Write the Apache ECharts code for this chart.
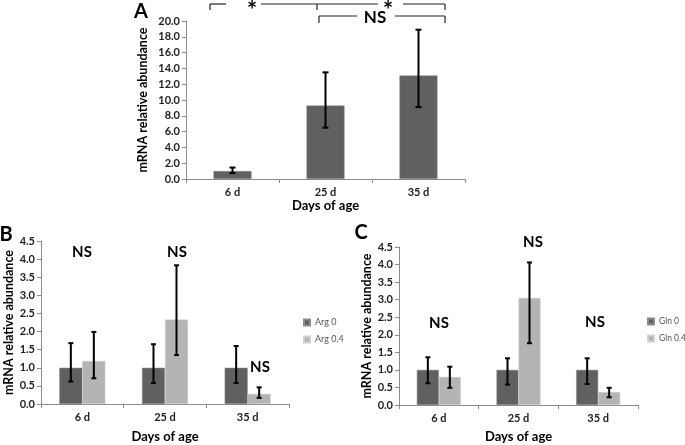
<!DOCTYPE html>
<html><head><meta charset="utf-8">
<script src="https://cdn.jsdelivr.net/npm/echarts@6/dist/echarts.min.js"></script>
<style>html,body{margin:0;padding:0;background:#fff}#c{width:685px;height:445px}</style>
</head><body><div id="c"></div>
<script>
const categories = ['6 d', '25 d', '35 d'];
// Panel A
const aValues = [1.0, 9.3, 13.1];
const aErrLow = [0.75, 6.5, 9.1];
const aErrHigh = [1.45, 13.5, 18.9];
// Panel B
const arg0 = [1.0, 1.0, 1.0];
const arg0Low = [0.62, 0.58, 0.58];
const arg0High = [1.68, 1.65, 1.6];
const arg04 = [1.19, 2.33, 0.28];
const arg04Low = [0.71, 1.35, 0.17];
const arg04High = [1.99, 3.83, 0.46];
// Panel C
const gln0 = [1.0, 1.0, 1.0];
const gln0Low = [0.62, 0.58, 0.6];
const gln0High = [1.36, 1.33, 1.33];
const gln04 = [0.8, 3.05, 0.37];
const gln04Low = [0.49, 1.76, 0.22];
const gln04High = [1.09, 4.06, 0.49];

const FONT = 'Lato, "Open Sans", sans-serif';
const DARK = '#606060', LIGHT = '#b4b4b4';

function yAx(gi, max, interval, gap) {
  return {
    gridIndex: gi, type: 'value', min: 0, max: max, interval: interval,
    name: 'mRNA relative abundance', nameLocation: 'middle', nameGap: gap,
    nameTextStyle: {fontFamily: FONT, fontWeight: 'bold', fontSize: 12.5, color: '#000'},
    axisLine: {show: true, lineStyle: {color: '#8c8c8c'}},
    axisTick: {show: true, length: 4, lineStyle: {color: '#8c8c8c'}},
    axisLabel: {fontFamily: FONT, fontWeight: 'bold', fontSize: 11, color: '#222', margin: 6,
      formatter: v => v.toFixed(1)},
    splitLine: {show: false}
  };
}
function xAx(gi, gap) {
  return {
    gridIndex: gi, type: 'category', data: categories,
    name: 'Days of age', nameLocation: 'middle', nameGap: gap,
    nameTextStyle: {fontFamily: FONT, fontWeight: 'bold', fontSize: 13, color: '#000'},
    axisLine: {lineStyle: {color: '#8c8c8c'}},
    axisTick: {show: true, length: 4, lineStyle: {color: '#8c8c8c'}},
    axisLabel: {fontFamily: FONT, fontWeight: 'bold', fontSize: 11, color: '#222', margin: 8}
  };
}
function errSeries(gi, low, high, offset, cap) {
  return {
    type: 'custom', xAxisIndex: gi, yAxisIndex: gi, z: 10,
    data: categories.map((c, i) => [i, low[i], high[i]]),
    renderItem: function (params, api) {
      const lo = api.coord([api.value(0), api.value(1)]);
      const hi = api.coord([api.value(0), api.value(2)]);
      const x = lo[0] + offset;
      const s = {stroke: '#000', lineWidth: 2};
      return {type: 'group', children: [
        {type: 'line', shape: {x1: x, y1: lo[1], x2: x, y2: hi[1]}, style: s},
        {type: 'line', shape: {x1: x - cap, y1: lo[1], x2: x + cap, y2: lo[1]}, style: s},
        {type: 'line', shape: {x1: x - cap, y1: hi[1], x2: x + cap, y2: hi[1]}, style: s}
      ]};
    }
  };
}
function txt(x, y, t, size) {
  return {type: 'text', x: x, y: y, style: {text: t, fontFamily: FONT, fontWeight: 'bold',
    fontSize: size || 14, fill: '#000', textAlign: 'center', textVerticalAlign: 'middle'}};
}
function ln(x1, y1, x2, y2) {
  return {type: 'line', shape: {x1, y1, x2, y2}, style: {stroke: '#222', lineWidth: 1.2}};
}

const chart = echarts.init(document.getElementById('c'), null, {renderer: 'canvas'});
chart.setOption({
  animation: false,
  grid: [
    {left: 186, width: 279, top: 21, height: 158},
    {left: 41, width: 248, top: 241, height: 163},
    {left: 399, width: 239, top: 247, height: 158}
  ],
  xAxis: [xAx(0, 20), xAx(1, 26), xAx(2, 25)],
  yAxis: [yAx(0, 20, 2, 37), yAx(1, 4.5, 0.5, 25), yAx(2, 4.5, 0.5, 24)],
  legend: [
    {data: ['Arg 0', 'Arg 0.4'], orient: 'vertical', left: 303, top: 318, padding: 0, itemWidth: 6, itemHeight: 6,
      itemGap: 8, icon: 'rect', textStyle: {fontFamily: FONT, fontSize: 9, color: '#555'}},
    {data: ['Gln 0', 'Gln 0.4'], orient: 'vertical', left: 647, top: 317, padding: 0, itemWidth: 6, itemHeight: 6,
      itemGap: 8, icon: 'rect', textStyle: {fontFamily: FONT, fontSize: 8.5, color: '#555'}}
  ],
  series: [
    {type: 'bar', xAxisIndex: 0, yAxisIndex: 0, data: aValues, barWidth: 38,
      itemStyle: {color: DARK, borderColor: '#8a8a8a', borderWidth: 0.5}},
    errSeries(0, aErrLow, aErrHigh, 0, 3),
    {name: 'Arg 0', type: 'bar', xAxisIndex: 1, yAxisIndex: 1, data: arg0, barWidth: 23, barGap: '0%',
      itemStyle: {color: DARK, borderColor: '#8a8a8a', borderWidth: 0.5}},
    {name: 'Arg 0.4', type: 'bar', xAxisIndex: 1, yAxisIndex: 1, data: arg04, barWidth: 23, barGap: '0%',
      itemStyle: {color: LIGHT, borderColor: '#d0d0d0', borderWidth: 0.5}},
    errSeries(1, arg0Low, arg0High, -11.5, 2.5),
    errSeries(1, arg04Low, arg04High, 11.5, 2.5),
    {name: 'Gln 0', type: 'bar', xAxisIndex: 2, yAxisIndex: 2, data: gln0, barWidth: 22, barGap: '0%',
      itemStyle: {color: DARK, borderColor: '#8a8a8a', borderWidth: 0.5}},
    {name: 'Gln 0.4', type: 'bar', xAxisIndex: 2, yAxisIndex: 2, data: gln04, barWidth: 22, barGap: '0%',
      itemStyle: {color: LIGHT, borderColor: '#d0d0d0', borderWidth: 0.5}},
    errSeries(2, gln0Low, gln0High, -11, 2.5),
    errSeries(2, gln04Low, gln04High, 11, 2.5)
  ],
  graphic: [
    txt(141, 12, 'A', 20), txt(6, 235, 'B', 20), txt(361, 233, 'C', 20),
    // bracket A (top)
    ln(210, 4, 226, 4), ln(210, 4, 210, 10), ln(261, 4, 378, 4), ln(317, 4, 317, 10),
    ln(403, 4, 445, 4), ln(445, 4, 445, 10),
    txt(252, 11, '*', 24), txt(388, 11, '*', 24),
    // bracket NS
    ln(319, 16, 357, 16), ln(319, 16, 319, 23), ln(395, 16, 445, 16), ln(445, 16, 445, 23),
    txt(375, 18, 'NS', 17),
    // NS labels B
    txt(82, 252, 'NS', 15), txt(177, 252, 'NS', 15), txt(260, 367, 'NS', 15),
    // NS labels C
    txt(439, 323, 'NS', 15), txt(533, 242, 'NS', 15), txt(595, 322, 'NS', 15)
  ]
});
</script></body></html>
